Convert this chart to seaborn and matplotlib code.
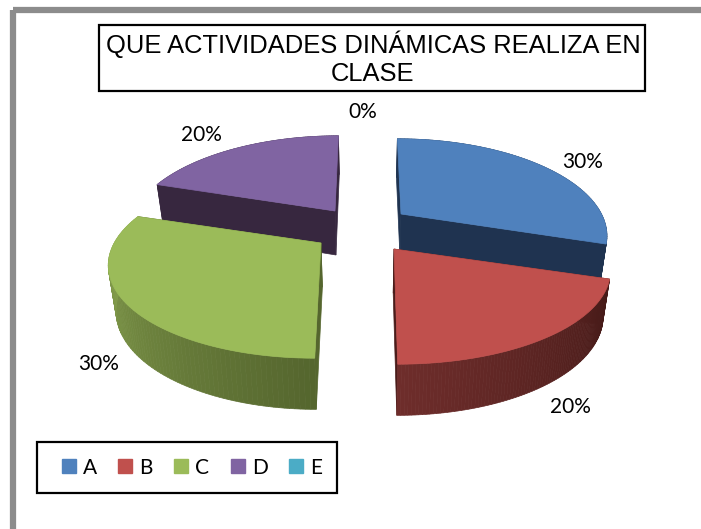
"""3D exploded pie chart: QUE ACTIVIDADES DINAMICAS REALIZA EN CLASE."""

import numpy as np
import matplotlib
matplotlib.use("Agg")
import matplotlib.pyplot as plt
from matplotlib.patches import Patch, Rectangle
import seaborn as sns

categories = ["A", "B", "C", "D", "E"]
values = [30, 20, 30, 20, 0]
title_text = "QUE ACTIVIDADES DINÁMICAS REALIZA EN\nCLASE"

top_colors = ["#4f81bd", "#c0504d", "#9bbb59", "#8064a2", "#4bacc6"]
cut_colors = ["#1f3350", "#4a1c1a", "#55662e", "#37273f", "#2a6070"]
rim_start = ["#1f3350", "#451a18", "#55662e", "#37273f", "#2a6070"]
rim_end = ["#1f3350", "#6e2d2b", "#8fab54", "#37273f", "#2a6070"]

# layout, in pixels of the 701x529 picture
apex = [(401, 214), (394, 249), (321, 243), (335, 211), (360, 230)]
width_scale = [0.95, 1.0, 0.98, 0.95, 1.0]
label_pos = [(583, 162), (570, 407), (99, 364), (201, 135), (363, 112)]
draw_order = [3, 0, 2, 1]
RX, RY, PERSP, LEAN, VANISH_X = 211, 91, 0.21, 0.12, 367
DEPTH = 44

sns.set_theme(style="white")
plt.rcParams["font.family"] = ["Lato", "DejaVu Sans"]

fig, ax = plt.subplots(figsize=(7.01, 5.29), dpi=100)
ax.set_position([0, 0, 1, 1])
ax.set_xlim(0, 701)
ax.set_ylim(529, 0)
ax.axis("off")


def rim_point(i, theta):
    """Project a point on the pie's edge, theta clockwise from the top."""
    u, v = np.sin(theta), np.cos(theta)
    w = 1 + PERSP * v
    x = VANISH_X + (apex[i][0] - VANISH_X) / (1 + LEAN * v) + RX * width_scale[i] * u / w
    y = apex[i][1] - RY * v / w
    return x, y


def lower(x, y, v):
    """Same point on the underside of the pie."""
    return VANISH_X + (x - VANISH_X) * 0.97, y + DEPTH / (1 + 0.14 * v)


def draw_wedge(i, start, end):
    center = apex[i]
    thetas = np.linspace(start, end, 90)
    xs, ys = rim_point(i, thetas)
    vs = np.cos(thetas)

    # flat cut faces going down from both radial edges
    for k in (0, -1):
        bx, by = lower(xs[k], ys[k], vs[k])
        cx, cy = lower(center[0], center[1], 0)
        ax.fill([center[0], xs[k], bx, cx], [center[1], ys[k], by, cy],
                color=cut_colors[i], lw=0.5, zorder=2)

    # outer wall, shaded in strips
    shades = sns.blend_palette([rim_start[i], rim_end[i]], n_colors=len(thetas) - 1)
    bxs, bys = lower(xs, ys, vs)
    for j, shade in enumerate(shades):
        ax.fill([xs[j], xs[j + 1], bxs[j + 1], bxs[j]],
                [ys[j], ys[j + 1], bys[j + 1], bys[j]],
                color=shade, lw=0.5, zorder=2)

    ax.fill(np.r_[center[0], xs], np.r_[center[1], ys],
            color=top_colors[i], lw=0.5, zorder=2)


# outer frame, cut off by the picture edge
ax.add_patch(Rectangle((13, 10), 720, 560, fill=False, ec="#8c8c8c", lw=4.5, zorder=1))

edges = np.deg2rad(np.r_[0, np.cumsum(values)] * 3.6)
for i in draw_order:
    draw_wedge(i, edges[i], edges[i + 1])

for value, (x, y) in zip(values, label_pos):
    ax.text(x, y, f"{value}%", ha="center", va="center", fontsize=15, color="black", zorder=4)

ax.add_patch(Rectangle((99, 25), 546, 66, fc="white", ec="black", lw=1.6, zorder=3))
ax.text(373, 58, title_text, ha="center", va="center", fontsize=18.4, linespacing=1.2,
        family="Liberation Sans", color="black", zorder=4)

ax.add_patch(Rectangle((37, 442), 300, 51, fc="white", ec="black", lw=1.6, zorder=3))
handles = [Patch(color=c, label=name) for c, name in zip(top_colors, categories)]
leg = ax.legend(handles=handles, ncol=5, loc="center", bbox_to_anchor=(192 / 701, 1 - 467.5 / 529),
                frameon=False, fontsize=15, labelcolor="black",
                handlelength=0.67, handleheight=0.67, handletextpad=0.35, columnspacing=1.02)
leg.set_zorder(4)

fig.savefig("out.png", dpi=100)
